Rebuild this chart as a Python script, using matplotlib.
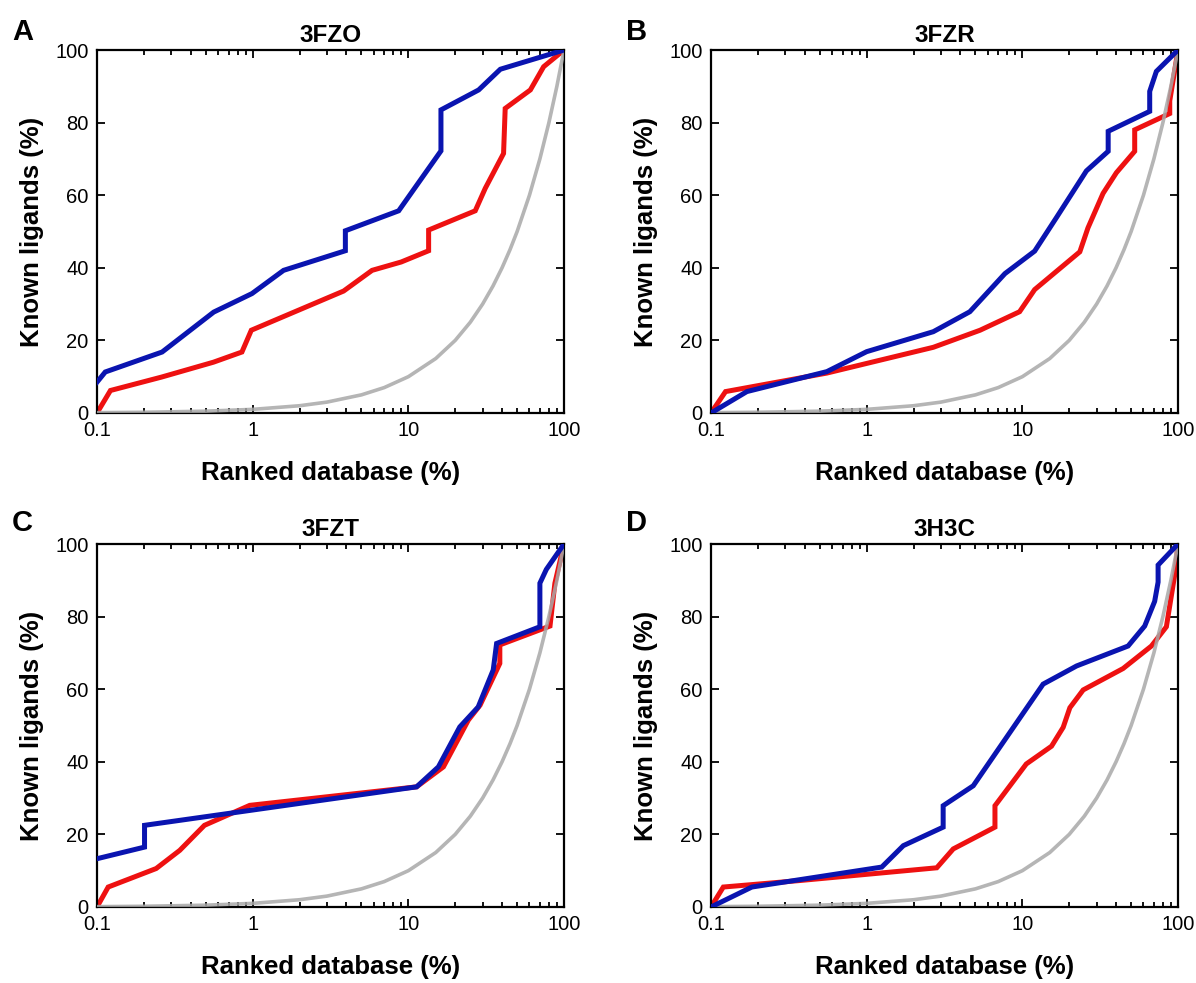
import numpy as np
import matplotlib as mpl
mpl.use("Agg")
import matplotlib.pyplot as plt
from matplotlib.ticker import FixedLocator, FixedFormatter, LogLocator, NullFormatter

mpl.rcParams['font.family'] = ['Liberation Sans', 'DejaVu Sans']

# panel names
titles = ["3FZO", "3FZR", "3FZT", "3H3C"]
letters = ["A", "B", "C", "D"]

# blue curves (x = ranked database %, y = known ligands %)
blue_a_x = [0.1, 0.113, 0.262, 0.562, 0.99, 1.58, 3.94, 3.94, 8.67, 16.2, 16.2, 28.3, 39, 100]
blue_a_y = [8.5, 11.3, 16.8, 27.8, 32.9, 39.3, 44.7, 50.2, 55.7, 72.2, 83.5, 89, 94.7, 100]
red_a_x = [0.1, 0.122, 0.26, 0.56, 0.853, 0.98, 3.84, 5.85, 9.0, 13.5, 13.5, 26.9, 31.2, 40.9, 41.9, 60.8, 74, 100]
red_a_y = [0, 6.2, 9.9, 14, 16.8, 22.8, 33.6, 39.3, 41.6, 44.7, 50.4, 55.7, 61.9, 71.5, 83.9, 89, 95.4, 100]

blue_b_x = [0.1, 0.17, 0.555, 1.0, 2.68, 4.6, 7.73, 12.0, 16.6, 25.8, 35.6, 35.6, 65.8, 65.8, 72.6, 100]
blue_b_y = [0, 5.9, 11.4, 16.9, 22.4, 27.9, 38.4, 44.6, 53.9, 66.7, 72.1, 77.6, 83.1, 88.6, 94.1, 100]
red_b_x = [0.1, 0.124, 0.555, 2.68, 5.35, 9.6, 12.0, 23.4, 26.4, 33, 40.2, 52.7, 52.7, 88.5, 88.5, 100]
red_b_y = [0, 5.9, 11, 18.1, 22.8, 27.9, 34, 44.4, 51, 60.5, 66.2, 72.1, 78, 82.5, 86, 100]

blue_c_x = [0.1, 0.202, 0.202, 11.3, 15.6, 21.4, 28.1, 35.1, 36.9, 70, 70, 77, 100]
blue_c_y = [13.3, 16.5, 22.5, 33.1, 38.6, 49.6, 55.1, 65.3, 72.6, 77.2, 89.2, 93, 100]
red_c_x = [0.1, 0.118, 0.24, 0.34, 0.49, 0.957, 11.3, 16.8, 24.3, 28.9, 38.7, 38.7, 81.3, 87.4, 100]
red_c_y = [0, 5.5, 10.6, 15.6, 22.5, 28, 33.1, 38.6, 51.5, 55.6, 67.1, 72.2, 77.4, 89.2, 100]

blue_d_x = [0.1, 0.183, 1.25, 1.72, 3.1, 3.1, 4.84, 13.6, 22.3, 47.8, 61.1, 70.8, 74.5, 74.5, 100]
blue_d_y = [0, 5.5, 11, 16.9, 22, 27.9, 33.4, 61.4, 66.4, 71.9, 77.4, 84.2, 89.5, 94.2, 100]
red_d_x = [0.1, 0.12, 0.374, 2.82, 3.6, 6.67, 6.67, 10.6, 15.4, 18.3, 20.2, 24.6, 44.4, 67.5, 84.2, 95.5, 100]
red_d_y = [0, 5.5, 7.3, 10.8, 16, 22, 27.9, 39.4, 44.3, 49.5, 54.9, 59.8, 65.7, 71.9, 77.2, 91.8, 100]

# random baseline (gray)
rand_x = [0.1, 0.2, 0.5, 1, 2, 3, 5, 7, 10, 15, 20, 25, 30, 35, 40, 45, 50, 60, 70, 80, 90, 100]
rand_y = [0.1, 0.2, 0.5, 1, 2, 3, 5, 7, 10, 15, 20, 25, 30, 35, 40, 45, 50, 60, 70, 80, 90, 100]

blues = [(blue_a_x, blue_a_y), (blue_b_x, blue_b_y), (blue_c_x, blue_c_y), (blue_d_x, blue_d_y)]
reds = [(red_a_x, red_a_y), (red_b_x, red_b_y), (red_c_x, red_c_y), (red_d_x, red_d_y)]

x_ticks = [0.1, 1, 10, 100]
x_ticklabels = ["0.1", "1", "10", "100"]
y_ticks = [0, 20, 40, 60, 80, 100]

W, H = 1196, 983
fig = plt.figure(figsize=(W / 100, H / 100), dpi=100)

# axes boxes in pixels: left, top, right, bottom
boxes = [(97, 50, 564, 413), (711, 50, 1178, 413),
         (97, 544, 564, 907), (711, 544, 1178, 907)]
letter_pos = [(12, 40), (626, 40), (12, 531), (626, 531)]

for i in range(4):
    l, t, r, b = boxes[i]
    ax = fig.add_axes([l / W, 1 - b / H, (r - l) / W, (b - t) / H])
    ax.plot(reds[i][0], reds[i][1], color="#ee1111", lw=3.6, solid_joinstyle="miter", zorder=2)
    ax.plot(rand_x, rand_y, color="#a8a8a8", lw=2.6, alpha=0.85, zorder=3)
    ax.plot(blues[i][0], blues[i][1], color="#0a14b0", lw=3.6, solid_joinstyle="miter", zorder=4)
    ax.set_xscale("log")
    ax.set_xlim(0.1, 100)
    ax.set_ylim(0, 100)
    ax.xaxis.set_major_locator(FixedLocator(x_ticks))
    ax.xaxis.set_major_formatter(FixedFormatter(x_ticklabels))
    ax.xaxis.set_minor_locator(LogLocator(base=10, subs=np.arange(2, 10)))
    ax.xaxis.set_minor_formatter(NullFormatter())
    ax.set_yticks(y_ticks)
    ax.tick_params(which="both", direction="in", top=True, right=True, labelsize=14.5, width=1.3)
    ax.tick_params(which="major", length=6)
    ax.tick_params(which="minor", length=3.5)
    ax.tick_params(axis="x", which="major", pad=6)
    ax.tick_params(axis="y", which="major", pad=6)
    for sp in ax.spines.values():
        sp.set_linewidth(1.6)
    ax.set_title(titles[i], fontsize=17.5, fontweight="bold", pad=6)
    ax.set_xlabel("Ranked database (%)", fontsize=18.5, fontweight="bold", labelpad=15)
    ax.set_ylabel("Known ligands (%)", fontsize=18.5, fontweight="bold", labelpad=8)
    fig.text(letter_pos[i][0] / W, 1 - letter_pos[i][1] / H, letters[i], fontsize=21,
             fontweight="bold", ha="left", va="baseline")

fig.savefig("out.png", dpi=100)
